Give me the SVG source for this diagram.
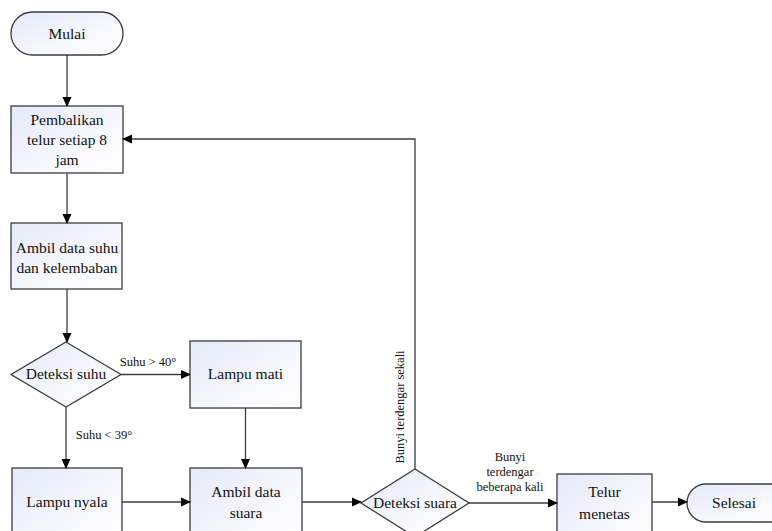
<svg xmlns="http://www.w3.org/2000/svg" width="772" height="531" viewBox="0 0 772 531">
<defs>
<linearGradient id="g" x1="0" y1="0" x2="1" y2="1">
<stop offset="0" stop-color="#e4e9f8"/>
<stop offset="0.6" stop-color="#f7f8fd"/>
<stop offset="1" stop-color="#ffffff"/>
</linearGradient>
<marker id="ah" markerWidth="10" markerHeight="10" refX="9" refY="5" orient="auto" markerUnits="userSpaceOnUse">
<path d="M0,0.5 L10,5 L0,9.5 Z" fill="#000"/>
</marker>
<style>
.s{fill:url(#g);stroke:#3c3c3c;stroke-width:1.3}
.t{font-family:"Liberation Serif","Times New Roman",serif;font-size:15.5px;fill:#111;text-anchor:middle}
.l{font-family:"Liberation Serif","Times New Roman",serif;font-size:12.5px;fill:#111;text-anchor:middle}
.c{fill:none;stroke:#3c3c3c;stroke-width:1.3;marker-end:url(#ah)}
</style>
</defs>
<rect width="772" height="531" fill="#fff"/>
<g id="mulai"><rect class="s" x="11" y="12" width="112" height="43" rx="21.5"/><text class="t" x="67" y="39">Mulai</text></g>
<g id="pembalikan"><rect class="s" x="11" y="106" width="112" height="67"/><text class="t" x="67" y="125">Pembalikan</text><text class="t" x="67" y="145">telur setiap 8</text><text class="t" x="67" y="165">jam</text></g>
<g id="ambilsuhu"><rect class="s" x="11" y="223" width="111" height="66"/><text class="t" x="67" y="253">Ambil data suhu</text><text class="t" x="67" y="273">dan kelembaban</text></g>
<g id="deteksisuhu"><polygon class="s" points="66,342 121,374.5 66,407 11,374.5"/><text class="t" x="66" y="379">Deteksi suhu</text></g>
<g id="lampumati"><rect class="s" x="190" y="341" width="111" height="67"/><text class="t" x="245.5" y="379">Lampu mati</text></g>
<g id="lampunyala"><rect class="s" x="12" y="468" width="110" height="80"/><text class="t" x="67" y="507">Lampu nyala</text></g>
<g id="ambilsuara"><rect class="s" x="190" y="468" width="112" height="80"/><text class="t" x="246" y="497">Ambil data</text><text class="t" x="246" y="518">suara</text></g>
<g id="deteksisuara"><polygon class="s" points="415,469 469,503 415,537 361,503"/><text class="t" x="415" y="508">Deteksi suara</text></g>
<g id="telur"><rect class="s" x="557" y="474" width="95" height="80"/><text class="t" x="604.5" y="497">Telur</text><text class="t" x="604.5" y="519">menetas</text></g>
<g id="selesai"><rect class="s" x="687" y="484" width="110" height="38" rx="19"/><text class="t" x="734" y="508">Selesai</text></g>
<g id="connectors">
<line class="c" x1="67" y1="55" x2="67" y2="106"/>
<line class="c" x1="67" y1="173" x2="67" y2="223"/>
<line class="c" x1="67" y1="289" x2="67" y2="342"/>
<line class="c" x1="121" y1="374.5" x2="190" y2="374.5"/>
<line class="c" x1="66" y1="407" x2="66" y2="468"/>
<line class="c" x1="245.5" y1="408" x2="245.5" y2="468"/>
<line class="c" x1="122" y1="502" x2="190" y2="502"/>
<line class="c" x1="302" y1="502" x2="361" y2="502"/>
<polyline class="c" points="415,469 415,139 123,139"/>
<line class="c" x1="469" y1="503" x2="557" y2="503"/>
<line class="c" x1="652" y1="502" x2="687" y2="502"/>
<text class="l" x="148" y="366">Suhu &gt; 40°</text>
<text class="l" x="104" y="439">Suhu &lt; 39°</text>
<text class="l" transform="translate(404,407) rotate(-90)" x="0" y="0">Bunyi terdengar sekali</text>
<text class="l" x="510" y="461">Bunyi</text>
<text class="l" x="510" y="476">terdengar</text>
<text class="l" x="510" y="491">beberapa kali</text>
</g>
</svg>
